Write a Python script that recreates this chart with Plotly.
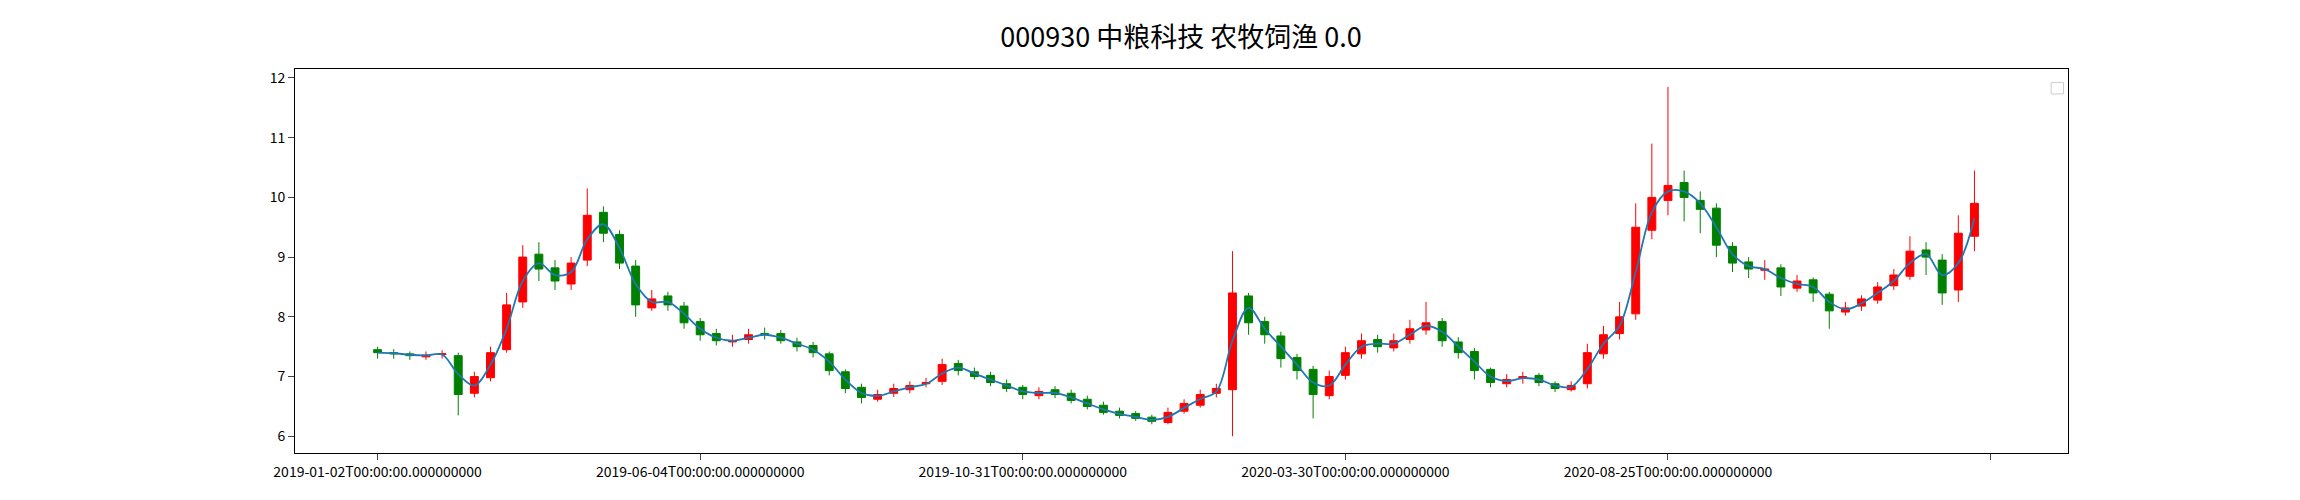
import pandas as pd
import plotly.graph_objects as go

# weekly-sampled bars (index step 5 trading days)
idx = list(range(0, 500, 5))

closes = [7.40, 7.38, 7.35, 7.36, 7.38, 6.70, 7.00, 7.40, 8.20, 9.00,
          8.80, 8.60, 8.90, 9.70, 9.40, 8.90, 8.20, 8.30, 8.20, 7.90,
          7.70, 7.60, 7.60, 7.70, 7.70, 7.60, 7.50, 7.40, 7.10, 6.80,
          6.65, 6.70, 6.80, 6.85, 6.90, 7.20, 7.10, 7.00, 6.90, 6.80,
          6.70, 6.75, 6.70, 6.60, 6.50, 6.40, 6.35, 6.30, 6.25, 6.40,
          6.55, 6.70, 6.80, 8.40, 7.90, 7.70, 7.30, 7.10, 6.70, 7.00,
          7.40, 7.60, 7.50, 7.60, 7.80, 7.90, 7.60, 7.40, 7.10, 6.90,
          6.95, 7.00, 6.90, 6.80, 6.85, 7.40, 7.70, 8.00, 9.50, 10.00,
          10.20, 10.00, 9.80, 9.20, 8.90, 8.80, 8.80, 8.50, 8.60, 8.40,
          8.10, 8.15, 8.30, 8.50, 8.70, 9.10, 9.00, 8.40, 9.40, 9.90]

opens = [7.45, 7.40, 7.38, 7.33, 7.37, 7.35, 6.72, 6.98, 7.45, 8.25,
         9.05, 8.82, 8.55, 8.95, 9.75, 9.38, 8.85, 8.15, 8.35, 8.18,
         7.92, 7.72, 7.58, 7.62, 7.72, 7.72, 7.58, 7.52, 7.38, 7.08,
         6.82, 6.62, 6.72, 6.78, 6.88, 6.92, 7.22, 7.08, 7.02, 6.88,
         6.82, 6.68, 6.78, 6.72, 6.62, 6.52, 6.42, 6.38, 6.32, 6.23,
         6.42, 6.52, 6.72, 6.78, 8.35, 7.92, 7.68, 7.32, 7.12, 6.68,
         7.02, 7.38, 7.62, 7.48, 7.62, 7.78, 7.92, 7.58, 7.42, 7.12,
         6.88, 6.97, 7.02, 6.88, 6.78, 6.88, 7.38, 7.72, 8.05, 9.45,
         9.95, 10.25, 9.95, 9.82, 9.18, 8.92, 8.78, 8.82, 8.48, 8.62,
         8.38, 8.08, 8.18, 8.28, 8.52, 8.68, 9.12, 8.95, 8.45, 9.35]

highs = [7.50, 7.46, 7.42, 7.42, 7.44, 7.40, 7.08, 7.50, 8.40, 9.20,
         9.25, 8.95, 9.00, 10.15, 9.85, 9.45, 8.95, 8.45, 8.42, 8.25,
         7.98, 7.80, 7.70, 7.80, 7.82, 7.78, 7.65, 7.58, 7.42, 7.12,
         6.88, 6.78, 6.88, 6.92, 6.98, 7.30, 7.28, 7.15, 7.08, 6.95,
         6.86, 6.82, 6.84, 6.78, 6.68, 6.58, 6.48, 6.42, 6.36, 6.48,
         6.62, 6.78, 6.88, 9.10, 8.40, 8.00, 7.75, 7.38, 7.18, 7.10,
         7.50, 7.72, 7.70, 7.72, 7.95, 8.25, 7.98, 7.66, 7.48, 7.15,
         7.04, 7.08, 7.06, 6.92, 6.92, 7.55, 7.85, 8.25, 9.90, 10.90,
         11.85, 10.45, 10.10, 9.90, 9.25, 9.00, 8.95, 8.88, 8.70, 8.66,
         8.42, 8.25, 8.36, 8.58, 8.80, 9.35, 9.25, 9.05, 9.70, 10.45]

lows = [7.30, 7.30, 7.28, 7.28, 7.30, 6.35, 6.65, 6.92, 7.40, 8.15,
        8.60, 8.45, 8.45, 8.85, 9.25, 8.80, 8.00, 8.10, 8.10, 7.80,
        7.60, 7.52, 7.50, 7.55, 7.62, 7.55, 7.42, 7.32, 7.02, 6.72,
        6.55, 6.58, 6.66, 6.72, 6.82, 6.86, 7.02, 6.95, 6.84, 6.74,
        6.62, 6.62, 6.64, 6.55, 6.45, 6.36, 6.30, 6.26, 6.20, 6.20,
        6.38, 6.48, 6.65, 6.00, 7.70, 7.55, 7.15, 6.95, 6.30, 6.62,
        6.95, 7.30, 7.40, 7.42, 7.55, 7.70, 7.50, 7.30, 6.95, 6.82,
        6.82, 6.88, 6.84, 6.74, 6.75, 6.80, 7.30, 7.62, 7.95, 9.30,
        9.70, 9.60, 9.40, 9.00, 8.75, 8.65, 8.62, 8.35, 8.42, 8.25,
        7.80, 8.02, 8.10, 8.22, 8.45, 8.62, 8.70, 8.20, 8.25, 9.10]

tick_vals = [0, 100, 200, 300, 400, 500]
tick_text = ['2019-01-02T00:00:00.000000000', '2019-06-04T00:00:00.000000000',
             '2019-10-31T00:00:00.000000000', '2020-03-30T00:00:00.000000000',
             '2020-08-25T00:00:00.000000000', '']

ma = pd.Series(closes).rolling(2, min_periods=1).mean()

fig = go.Figure()
fig.add_trace(go.Candlestick(
    x=idx, open=opens, high=highs, low=lows, close=closes,
    increasing=dict(line=dict(color='#ff0000', width=1), fillcolor='#ff0000'),
    decreasing=dict(line=dict(color='#008000', width=1), fillcolor='#008000'),
    whiskerwidth=0, showlegend=False
))
fig.add_trace(go.Scatter(x=idx, y=ma, mode='lines', line=dict(color='#1f77b4', width=1.8),
                         line_shape='spline', showlegend=False))

# empty legend box like the original
fig.add_shape(type='rect', xref='paper', yref='paper', x0=0.9905, x1=0.9975, y0=0.935, y1=0.965,
              line=dict(color='#cccccc', width=1), fillcolor='white')

fig.update_layout(
    width=2300, height=500,
    margin=dict(l=287, r=240, t=61, b=55),
    plot_bgcolor='white', paper_bgcolor='white',
    font=dict(family='Noto Sans CJK SC, DejaVu Sans', size=14, color='black'),
    title=dict(text='000930 中粮科技 农牧饲渔 0.0', x=0.51, xanchor='center',
               y=0.94, yanchor='middle', font=dict(family='Noto Sans CJK SC, DejaVu Sans Mono', size=27)),
    xaxis=dict(range=[-25.6, 524], tickvals=tick_vals, ticktext=tick_text, ticks='outside',
               ticklen=6, showgrid=False, zeroline=False, showline=True, mirror=True,
               linecolor='black', rangeslider=dict(visible=False)),
    yaxis=dict(range=[5.72, 12.15], dtick=1, ticks='outside', ticklen=6, showgrid=False,
               zeroline=False, showline=True, mirror=True, linecolor='black'),
)

fig.write_html('out.html')
